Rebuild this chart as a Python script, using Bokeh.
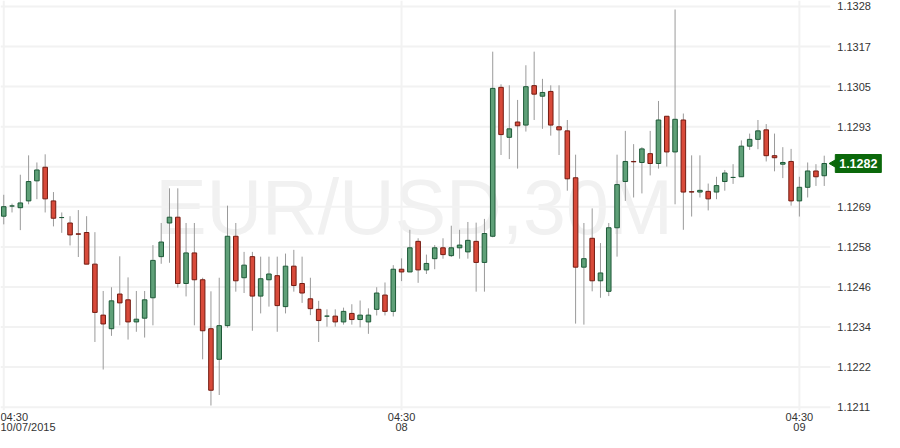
from math import pi
from bokeh.plotting import figure
from bokeh.models import ColumnDataSource, Range1d
from bokeh.core.properties import value
from bokeh.embed import file_html
from bokeh.resources import INLINE

# ---- data: EUR/USD 30-minute candles, from 07/10/2015 04:30 ----
open_ = [1.12667, 1.12697, 1.12692, 1.12712, 1.12771, 1.12811, 1.12712, 1.12663, 1.12647, 1.12615,
         1.12619, 1.12526, 1.12376, 1.12336, 1.12438, 1.12421, 1.12356, 1.12367, 1.12427, 1.12548,
         1.12647, 1.12664, 1.12469, 1.12559, 1.12480, 1.12336, 1.12246, 1.12345, 1.12608, 1.12486,
         1.12548, 1.12432, 1.12480, 1.12492, 1.12401, 1.12520, 1.12469, 1.12424, 1.12393, 1.12373,
         1.12373, 1.12356, 1.12381, 1.12363, 1.12356, 1.12393, 1.12435, 1.12387, 1.12511, 1.12503,
         1.12593, 1.12509, 1.12542, 1.12574, 1.12551, 1.12574, 1.12562, 1.12593, 1.12531, 1.12608,
         1.13046, 1.12899, 1.12944, 1.12935, 1.13051, 1.13020, 1.13034, 1.12930, 1.12918, 1.12780,
         1.12517, 1.12602, 1.12477, 1.12446, 1.12633, 1.12769, 1.12828, 1.12825, 1.12851, 1.12822,
         1.12961, 1.12856, 1.12950, 1.12739, 1.12738, 1.12740, 1.12738, 1.12769, 1.12781, 1.12783,
         1.12873, 1.12893, 1.12921, 1.12845, 1.12820, 1.12828, 1.12712, 1.12752, 1.12800, 1.12786]
high = [1.12730, 1.12704, 1.12789, 1.12846, 1.12825, 1.12849, 1.12738, 1.12678, 1.12667, 1.12685,
        1.12667, 1.12620, 1.12447, 1.12458, 1.12549, 1.12487, 1.12447, 1.12447, 1.12582, 1.12647,
        1.12749, 1.12749, 1.12647, 1.12647, 1.12486, 1.12446, 1.12486, 1.12698, 1.12647, 1.12562,
        1.12562, 1.12548, 1.12548, 1.12548, 1.12557, 1.12568, 1.12548, 1.12486, 1.12418, 1.12393,
        1.12393, 1.12398, 1.12408, 1.12419, 1.12396, 1.12458, 1.12472, 1.12523, 1.12543, 1.12627,
        1.12602, 1.12554, 1.12582, 1.12602, 1.12639, 1.12627, 1.12650, 1.12648, 1.12659, 1.13151,
        1.13055, 1.13052, 1.13009, 1.13111, 1.13151, 1.13071, 1.13052, 1.13052, 1.12950, 1.12848,
        1.12647, 1.12690, 1.12588, 1.12647, 1.12848, 1.12918, 1.12879, 1.12870, 1.12918, 1.13006,
        1.12961, 1.13275, 1.12969, 1.12846, 1.12846, 1.12763, 1.12783, 1.12803, 1.12820, 1.12890,
        1.12910, 1.12950, 1.12938, 1.12910, 1.12870, 1.12865, 1.12783, 1.12825, 1.12820, 1.12845]
low = [1.12643, 1.12678, 1.12626, 1.12702, 1.12717, 1.12678, 1.12637, 1.12618, 1.12581, 1.12547,
       1.12526, 1.12297, 1.12216, 1.12315, 1.12346, 1.12304, 1.12327, 1.12310, 1.12346, 1.12527,
       1.12530, 1.12457, 1.12431, 1.12346, 1.12246, 1.12110, 1.12141, 1.12339, 1.12445, 1.12441,
       1.12330, 1.12381, 1.12401, 1.12327, 1.12381, 1.12445, 1.12412, 1.12376, 1.12297, 1.12342,
       1.12342, 1.12348, 1.12348, 1.12340, 1.12321, 1.12375, 1.12375, 1.12372, 1.12476, 1.12503,
       1.12471, 1.12497, 1.12511, 1.12542, 1.12547, 1.12542, 1.12542, 1.12445, 1.12445, 1.12605,
       1.12847, 1.12835, 1.12807, 1.12916, 1.12950, 1.12924, 1.12904, 1.12847, 1.12742, 1.12351,
       1.12348, 1.12446, 1.12427, 1.12432, 1.12548, 1.12712, 1.12722, 1.12734, 1.12787, 1.12807,
       1.12813, 1.12702, 1.12627, 1.12666, 1.12722, 1.12684, 1.12717, 1.12742, 1.12762, 1.12783,
       1.12862, 1.12864, 1.12828, 1.12799, 1.12779, 1.12698, 1.12666, 1.12722, 1.12756, 1.12756]
close = [1.12695, 1.12697, 1.12706, 1.12769, 1.12803, 1.12718, 1.12661, 1.12663, 1.12612, 1.12614,
         1.12526, 1.12384, 1.12350, 1.12418, 1.12412, 1.12356, 1.12364, 1.12421, 1.12537, 1.12591,
         1.12664, 1.12469, 1.12559, 1.12480, 1.12330, 1.12155, 1.12345, 1.12608, 1.12477, 1.12523,
         1.12432, 1.12483, 1.12497, 1.12404, 1.12520, 1.12463, 1.12441, 1.12395, 1.12360, 1.12373,
         1.12356, 1.12387, 1.12363, 1.12376, 1.12376, 1.12441, 1.12387, 1.12511, 1.12503, 1.12574,
         1.12509, 1.12528, 1.12574, 1.12554, 1.12574, 1.12582, 1.12596, 1.12531, 1.12616, 1.13043,
         1.12907, 1.12924, 1.12933, 1.13048, 1.13026, 1.13031, 1.12935, 1.12921, 1.12777, 1.12517,
         1.12542, 1.12477, 1.12500, 1.12633, 1.12760, 1.12828, 1.12827, 1.12865, 1.12822, 1.12950,
         1.12856, 1.12952, 1.12738, 1.12738, 1.12743, 1.12718, 1.12757, 1.12794, 1.12781, 1.12873,
         1.12893, 1.12918, 1.12845, 1.12839, 1.12825, 1.12712, 1.12752, 1.12800, 1.12783, 1.12822]

symbol = "EUR/USD,30M"
x_tick_index = [0, 48, 96]
x_tick_time = ["04:30", "04:30", "04:30"]
x_tick_date = ["10/07/2015", "08", "09"]
y_tick_labels = ["1.1211", "1.1222", "1.1234", "1.1246", "1.1258", "1.1269",
                 "1.1281", "1.1293", "1.1305", "1.1317", "1.1328"]
y_tick_start = 1.121052
y_tick_step = 0.0011788

# ---- styling / layout ----
GREEN_FILL, GREEN_LINE = "#5fa078", "#1e5a38"
RED_FILL, RED_LINE = "#d84a3a", "#741c12"
BADGE = "#0b680b"
WICK = "#9a9a9a"
GRID = "#f2f2f2"
FONT = value("Liberation Sans")
TXT = "#333333"

W, H = 884, 432
x_lo, x_hi = -0.391, 106.27          # plot spans the whole canvas; right part holds the price scale
y_lo, y_hi = 1.120307, 1.133015
plot_end = 99.73                      # right edge of the candle area
px_x = W / (x_hi - x_lo)              # pixels per candle

n = len(close)
idx = list(range(n))
up = [c >= o for o, c in zip(open_, close)]
src = ColumnDataSource(dict(
    x=idx, high=high, low=low,
    top=[max(o, c) for o, c in zip(open_, close)],
    bottom=[min(o, c) for o, c in zip(open_, close)],
    fill=[GREEN_FILL if u else RED_FILL for u in up],
    line=[GREEN_LINE if u else RED_LINE for u in up],
))

p = figure(width=W, height=H, x_range=Range1d(x_lo, x_hi), y_range=Range1d(y_lo, y_hi),
           x_axis_location=None, y_axis_location=None,
           output_backend="svg", toolbar_location=None,
           min_border=0, min_border_left=0, min_border_right=0, min_border_top=0, min_border_bottom=0)
p.outline_line_color = None
p.background_fill_color = "white"
p.border_fill_color = "white"
p.xgrid.visible = False
p.ygrid.visible = False

yt = [round(y_tick_start + k * y_tick_step, 7) for k in range(len(y_tick_labels))]

# watermark
p.text(x=[(n - 1) / 2], y=[(yt[0] + yt[-1]) / 2], text=[symbol], text_font=FONT,
       text_font_size="77px", text_color="#f1f1f1", text_align="center", text_baseline="middle")

# grid
p.segment(x0=[x_lo] * len(yt), x1=[plot_end] * len(yt), y0=yt, y1=yt,
          line_color=GRID, line_width=2)
p.segment(x0=x_tick_index, x1=x_tick_index, y0=[y_hi] * 3, y1=[yt[0] - 0.00009] * 3,
          line_color=GRID, line_width=2)

# candles
p.segment(x0="x", y0="high", x1="x", y1="low", source=src, line_color=WICK, line_width=1)
p.vbar(x="x", width=0.55, top="top", bottom="bottom", source=src,
       fill_color="fill", line_color="line", line_width=1)

# price scale labels
p.text(x=[plot_end] * len(yt), y=yt, text=y_tick_labels, x_offset=7,
       text_font=FONT, text_font_size="11px", text_color=TXT,
       text_align="left", text_baseline="middle")

# time labels
p.text(x=[x_lo], y=[yt[0]], text=[x_tick_time[0]], y_offset=10, text_font=FONT,
       text_font_size="11px", text_color=TXT, text_align="left", text_baseline="middle")
p.text(x=[x_lo], y=[yt[0]], text=[x_tick_date[0]], y_offset=19.5, text_font=FONT,
       text_font_size="11px", text_color=TXT, text_align="left", text_baseline="middle")
p.text(x=x_tick_index[1:], y=[yt[0]] * 2, text=x_tick_time[1:], y_offset=10, text_font=FONT,
       text_font_size="11px", text_color=TXT, text_align="center", text_baseline="middle")
p.text(x=x_tick_index[1:], y=[yt[0]] * 2, text=x_tick_date[1:], y_offset=19.5, text_font=FONT,
       text_font_size="11px", text_color=TXT, text_align="center", text_baseline="middle")

# last price badge
last = close[-1]
bx0 = plot_end + 5 / px_x
p.rect(x=[bx0 + 23 / px_x], y=[last], width=46, height=18, width_units="screen",
       height_units="screen", fill_color=BADGE, line_color=BADGE)
p.scatter(x=[bx0 - 1 / px_x], y=[last], marker="triangle", size=9, angle=pi / 2,
          fill_color=BADGE, line_color=BADGE)
p.text(x=[bx0 + 23 / px_x], y=[last], text=[f"{last:.4f}"], text_font=FONT,
       text_font_size="12.5px", text_font_style="bold", text_color="white",
       text_align="center", text_baseline="middle")

open("out.html", "w").write(file_html(p, INLINE))
